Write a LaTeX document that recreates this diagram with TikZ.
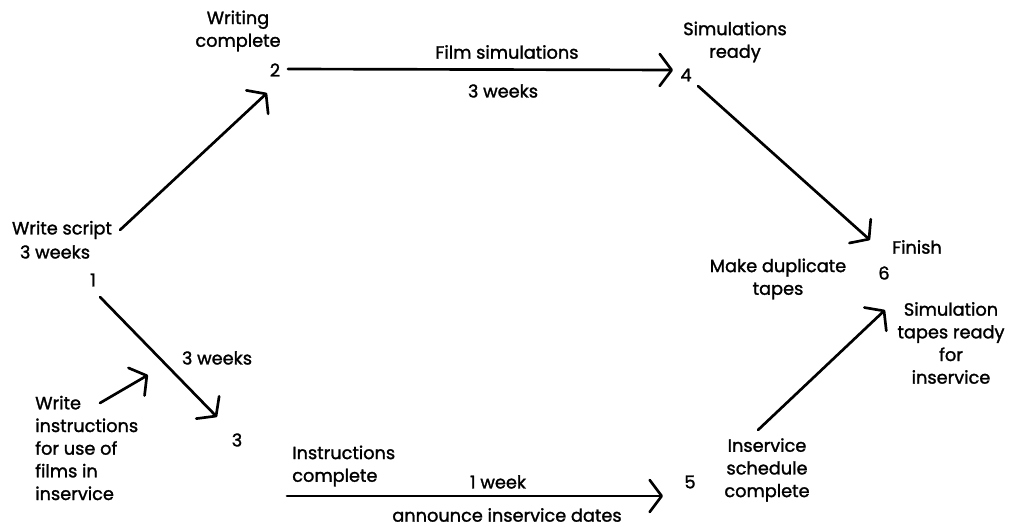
\documentclass[tikz,border=0pt]{standalone}
\usepackage{fontspec}
\setmainfont{Poppins}[FakeBold=1.5]
\usetikzlibrary{arrows.meta}
\tikzset{
  lbl/.style={inner sep=0pt, align=center, font=\fontsize{13.3}{17}\selectfont},
  lbll/.style={lbl, align=left},
  num/.style={inner sep=0pt, font=\fontsize{13.3}{17}\selectfont},
  arr/.style={line width=2pt, line cap=round, -{Straight Barb[length=9pt,width=24pt,line cap=round,line join=round]}},
  ln/.style={line width=2pt, line cap=round}
}
\begin{document}
\begin{tikzpicture}[x=0.75pt,y=-0.75pt]
\useasboundingbox (0,0) rectangle (1016,527);
% event numbers
\node[num] (n1) at (93,280) {1};
\node[num] (n2) at (275,70) {2};
\node[num] (n3) at (237,440) {3};
\node[num] (n4) at (686,75) {4};
\node[num] (n5) at (690,482) {5};
\node[num] (n6) at (884,273) {6};
% labels
\node[lbl] (wc) at (238,31) {Writing\\complete};
\node[lbl] (fs) at (507,52) {Film simulations};
\node[lbl] (fs3) at (503,91) {3 weeks};
\node[lbl] (sr) at (735,42) {Simulations\\ready};
\node[lbl] (fin) at (917,247) {Finish};
\node[lbl] (md) at (778,279) {Make duplicate\\tapes};
\node[lbl] (st) at (951,343) {Simulation\\tapes ready\\for\\inservice};
\node[lbl] (isc) at (767,470) {Inservice\\schedule\\complete};
\node[lbll, anchor=west] (ic) at (292,466) {Instructions\\complete};
\node[lbl] (wk1) at (498,482) {1 week};
\node[lbl] (aid) at (507,515) {announce inservice dates};
\node[lbl] (w3) at (217,358) {3 weeks};
\node[lbll, anchor=west] (wi) at (35,448) {Write\\instructions\\for use of\\films in\\inservice};
\node[lbl] (ws1) at (62,230) {Write script};
\node[lbl] (ws2) at (55,252) {3 weeks};
% connector ends
\coordinate (a12s) at (120,230);
\coordinate (a12e) at (267,93);
\coordinate (a24s) at (288,69);
\coordinate (a24e) at (673,70);
\coordinate (a46s) at (698,86);
\coordinate (a46e) at (870,240);
\coordinate (a13s) at (100,297);
\coordinate (a13e) at (217,417);
\coordinate (a35s) at (287,496);
\coordinate (a35e) at (663,496);
\coordinate (a56s) at (758,430);
\coordinate (a56e) at (885,310);
\coordinate (awis) at (100,403);
\coordinate (awie) at (148,375);
% connectors
\draw[arr] (a12s) -- (a12e);
\draw[arr] (a24s) -- (a24e);
\draw[arr] (a46s) -- (a46e);
\draw[arr] (a13s) -- (a13e);
\draw[arr] (a35s) -- (a35e);
\draw[arr] (a56s) -- (a56e);
\draw[arr] (awis) -- (awie);
\end{tikzpicture}
\end{document}
